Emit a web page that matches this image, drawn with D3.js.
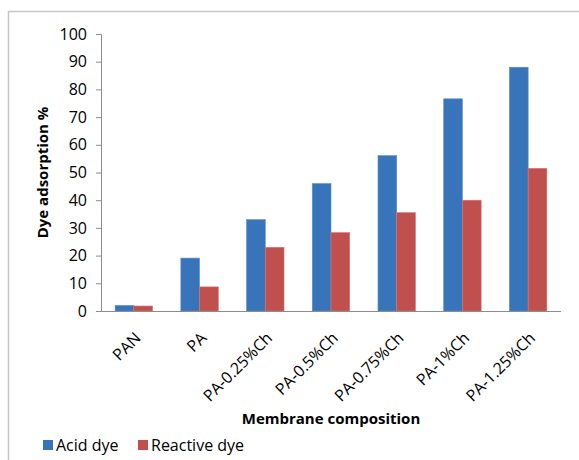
<!DOCTYPE html>
<html>
<head>
<style>
  body { margin: 0; background: #fff; }
  svg text { font-family: "Open Sans", sans-serif; fill: #000; }
</style>
</head>
<body>
<svg></svg>
<script src="https://cdnjs.cloudflare.com/ajax/libs/d3/7.8.5/d3.min.js"></script>
<script>
  // membrane samples along the x axis
  const categories = ['PAN', 'PA', 'PA-0.25%Ch', 'PA-0.5%Ch', 'PA-0.75%Ch', 'PA-1%Ch', 'PA-1.25%Ch'];
  const acidDye = [2.0, 19.1, 33.0, 46.0, 56.1, 76.6, 88.0];
  const reactiveDye = [1.8, 8.7, 23.0, 28.3, 35.5, 40.0, 51.5];
  const seriesNames = ['Acid dye', 'Reactive dye'];
  const yTicks = [0, 10, 20, 30, 40, 50, 60, 70, 80, 90, 100];

  const width = 579, height = 460;
  const margin = { top: 34, left: 101, right: 18, bottom: 149 };
  const colors = ['#3874b9', '#c0504d'];

  const svg = d3.select('svg').attr('width', width).attr('height', height);

  // outer frame (only top and left visible in the crop)
  svg.append('path')
    .attr('d', `M8.5,${height} V11.5 H${width}`)
    .attr('fill', 'none')
    .attr('stroke', '#c6c6c6')
    .attr('stroke-width', 1.5);

  const x = d3.scaleBand()
    .domain(categories)
    .range([margin.left, width - margin.right])
    .paddingInner(0.43)
    .paddingOuter(0.215);

  const y = d3.scaleLinear()
    .domain([0, 100])
    .range([height - margin.bottom, margin.top]);

  const x1 = d3.scaleBand()
    .domain(seriesNames)
    .range([0, x.bandwidth()]);

  const rows = categories.map((c, i) => ({ cat: c, vals: [acidDye[i], reactiveDye[i]] }));

  const groups = svg.append('g').selectAll('g')
    .data(rows)
    .join('g')
    .attr('transform', d => `translate(${x(d.cat)},0)`);

  groups.selectAll('rect')
    .data(d => d.vals.map((v, j) => ({ v, j })))
    .join('rect')
    .attr('x', d => x1(seriesNames[d.j]))
    .attr('y', d => y(d.v))
    .attr('width', x1.bandwidth())
    .attr('height', d => y(0) - y(d.v))
    .attr('fill', d => colors[d.j])
    .attr('stroke', d => d.j === 0 ? '#5b8fcc' : '#d67572')
    .attr('stroke-width', 0.6);

  // y axis
  const yAxis = svg.append('g')
    .attr('transform', `translate(${margin.left},0)`)
    .call(d3.axisLeft(y).tickValues(yTicks).tickSize(5).tickPadding(9));
  yAxis.select('.domain').attr('stroke', '#8c8c8c');
  yAxis.selectAll('.tick line').attr('stroke', '#8c8c8c');
  yAxis.selectAll('.tick text').style('font-size', '16px');

  // x axis line
  svg.append('line')
    .attr('x1', margin.left).attr('x2', width - margin.right)
    .attr('y1', y(0) + 0.5).attr('y2', y(0) + 0.5)
    .attr('stroke', '#8c8c8c');

  // rotated category labels
  svg.append('g').selectAll('text')
    .data(categories)
    .join('text')
    .attr('transform', d => `translate(${x(d) + x.bandwidth() / 2 + 8},${y(0) + 28}) rotate(-45)`)
    .attr('text-anchor', 'end')
    .style('font-size', '16px')
    .text(d => d);

  // axis titles
  svg.append('text')
    .attr('transform', `translate(48,${(y(0) + y(100)) / 2}) rotate(-90)`)
    .attr('text-anchor', 'middle')
    .style('font-size', '15px')
    .style('font-weight', 'bold')
    .text('Dye adsorption %');

  svg.append('text')
    .attr('x', 331)
    .attr('y', 424)
    .attr('text-anchor', 'middle')
    .style('font-size', '15px')
    .style('font-weight', 'bold')
    .text('Membrane composition');

  // legend
  const legendX = [43, 138];
  const legend = svg.append('g').selectAll('g')
    .data(seriesNames)
    .join('g')
    .attr('transform', (d, i) => `translate(${legendX[i]},440)`);
  legend.append('rect')
    .attr('width', 10).attr('height', 10)
    .attr('fill', (d, i) => colors[i]);
  legend.append('text')
    .attr('x', 13).attr('y', 11)
    .style('font-size', '16px')
    .text(d => d);
</script>
</body>
</html>
